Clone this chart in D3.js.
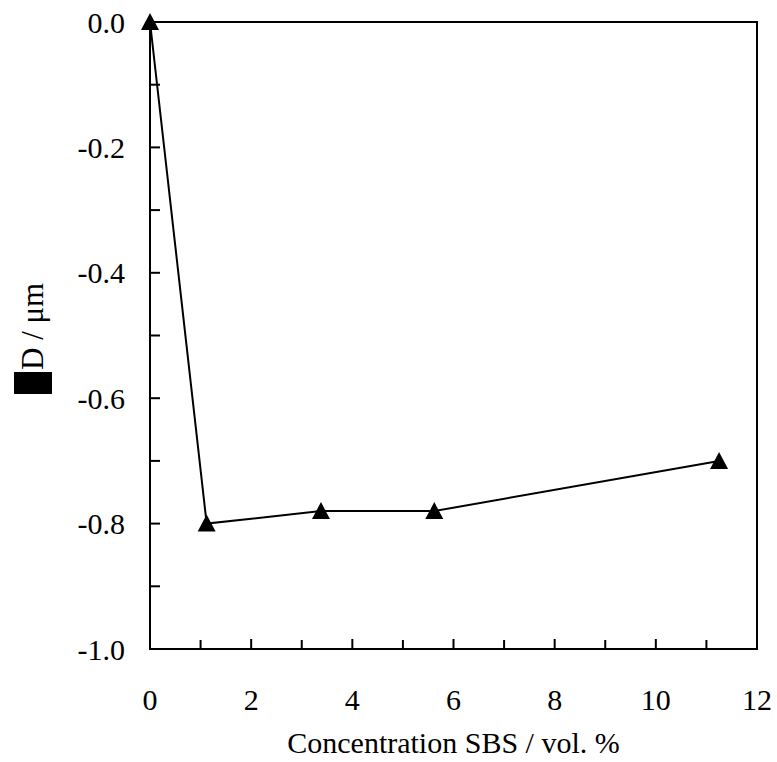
<!DOCTYPE html>
<html><head><meta charset="utf-8">
<script src="https://cdn.jsdelivr.net/npm/d3@7"></script>
</head><body style="margin:0">
<script>
const concentration = [0, 1.12, 3.38, 5.62, 11.25];
const deltaD = [0, -0.80, -0.78, -0.78, -0.70];
const xTicks = [0, 2, 4, 6, 8, 10, 12];
const yTicks = [0, -0.2, -0.4, -0.6, -0.8, -1.0];
const yTickLabels = ["0.0", "-0.2", "-0.4", "-0.6", "-0.8", "-1.0"];
const xLabel = "Concentration SBS / vol. %";
const yLabel = "D / μm";

const W = 777, H = 762;
const m = {left:150, right:20, top:22, bottom:113};
const svg = d3.select("body").append("svg").attr("width", W).attr("height", H)
  .attr("font-family", "Times New Roman").style("font-family", "Times New Roman");
const x = d3.scaleLinear().domain([0, 12]).range([m.left, W - m.right]);
const y = d3.scaleLinear().domain([-1, 0]).range([H - m.bottom, m.top]);
const font = "Times New Roman";

// frame
svg.append("rect").attr("x", x(0)).attr("y", y(0)).attr("width", x(12)-x(0)).attr("height", y(-1)-y(0))
  .attr("fill","none").attr("stroke","#000").attr("stroke-width",2);

// ticks inward
const xMinor = d3.range(1, 12, 1);
svg.append("g").selectAll("line").data(xMinor).join("line")
  .attr("x1", d=>x(d)).attr("x2", d=>x(d)).attr("y1", y(-1)).attr("y2", d=> y(-1) - (d%2===0 ? 10 : 9))
  .attr("stroke","#000").attr("stroke-width",2);
const yMinor = d3.range(1, 10).map(i => -i/10);
svg.append("g").selectAll("line").data(yMinor).join("line")
  .attr("x1", x(0)).attr("x2", x(0)+10).attr("y1", d=>y(d)).attr("y2", d=>y(d))
  .attr("stroke","#000").attr("stroke-width",2);

// tick labels
svg.selectAll("text.xt").data(xTicks).join("text").attr("class","xt")
  .attr("x", d=>x(d)).attr("y", 710).attr("text-anchor","middle")
  .attr("font-size", 30).attr("font-family", font).style("font-family", font).text(d=>d);
svg.selectAll("text.yt").data(yTicks).join("text").attr("class","yt")
  .attr("x", 125).attr("y", d=>y(d)).attr("dy","0.35em").attr("text-anchor","end")
  .attr("font-size", 30).attr("font-family", font).style("font-family", font).text((d,i)=>yTickLabels[i]);

// axis labels
svg.append("text").attr("x", (x(0)+x(12))/2).attr("y", 753).attr("text-anchor","middle")
  .attr("font-size", 30).attr("font-family", font).style("font-family", font).text(xLabel);
svg.append("rect").attr("x", 14).attr("y", 372).attr("width", 38).attr("height", 22).attr("fill","#000");
svg.append("text").attr("transform", "translate(43,370) rotate(-90)").attr("text-anchor","start")
  .attr("font-size", 31).attr("font-family", font).style("font-family", font).text(yLabel);

// line + markers
const pts = concentration.map((c,i)=>[c, deltaD[i]]);
svg.append("path").datum(pts).attr("fill","none").attr("stroke","#000").attr("stroke-width",2)
  .attr("d", d3.line().x(d=>x(d[0])).y(d=>y(d[1])));
svg.append("g").selectAll("path").data(pts).join("path")
  .attr("transform", d=>`translate(${x(d[0])},${y(d[1])})`)
  .attr("d", "M0,-9L9,8L-9,8Z").attr("fill","#000");
</script>
</body></html>
